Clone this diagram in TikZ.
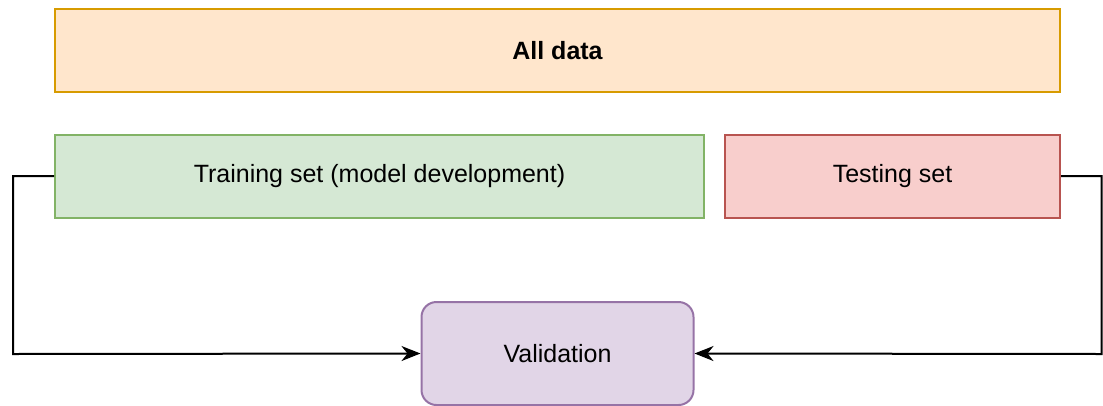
\documentclass[tikz,border=0pt]{standalone}
\usepackage{fontspec}
\setmainfont{Liberation Sans}
\usetikzlibrary{arrows.meta}
\definecolor{orangefill}{HTML}{FFE6CC}
\definecolor{orangeline}{HTML}{D79B00}
\definecolor{greenfill}{HTML}{D5E8D4}
\definecolor{greenline}{HTML}{82B366}
\definecolor{redfill}{HTML}{F8CECC}
\definecolor{redline}{HTML}{B85450}
\definecolor{purplefill}{HTML}{E1D5E7}
\definecolor{purpleline}{HTML}{9673A6}
\tikzset{
  box/.style={draw, line width=2pt, inner sep=0pt, font=\fontsize{25}{30}\selectfont},
  alldata/.style={box, fill=orangefill, draw=orangeline, font=\fontsize{25}{30}\selectfont\bfseries},
  trainbox/.style={box, fill=greenfill, draw=greenline},
  testbox/.style={box, fill=redfill, draw=redline},
  valbox/.style={box, fill=purplefill, draw=purpleline, rounded corners=15pt},
  link/.style={line width=2pt, -{Stealth[length=19pt,width=15pt,inset=6pt]}}
}
\begin{document}
\begin{tikzpicture}[x=1pt,y=-1pt]
\useasboundingbox (0,0) rectangle (1103,405);
\node[alldata, minimum width=1005pt, minimum height=83pt] (all) at (557.5,50.5) {All data};
\node[trainbox, minimum width=649pt, minimum height=83pt] (train) at (379.5,176) {Training set (model development)};
\node[testbox, minimum width=335pt, minimum height=83pt] (test) at (892.5,176) {Testing set};
\node[valbox, minimum width=272pt, minimum height=103pt] (val) at (557.5,353.5) {Validation};
\coordinate (lt) at (13,176);
\coordinate (lb) at (13,354);
\coordinate (rt) at (1101.5,176);
\coordinate (rb) at (1101.5,354);
\draw[link] (train.west) -- (lt) -- (lb) -- (val.west);
\draw[link] (test.east) -- (rt) -- (rb) -- (val.east);
\end{tikzpicture}
\end{document}
